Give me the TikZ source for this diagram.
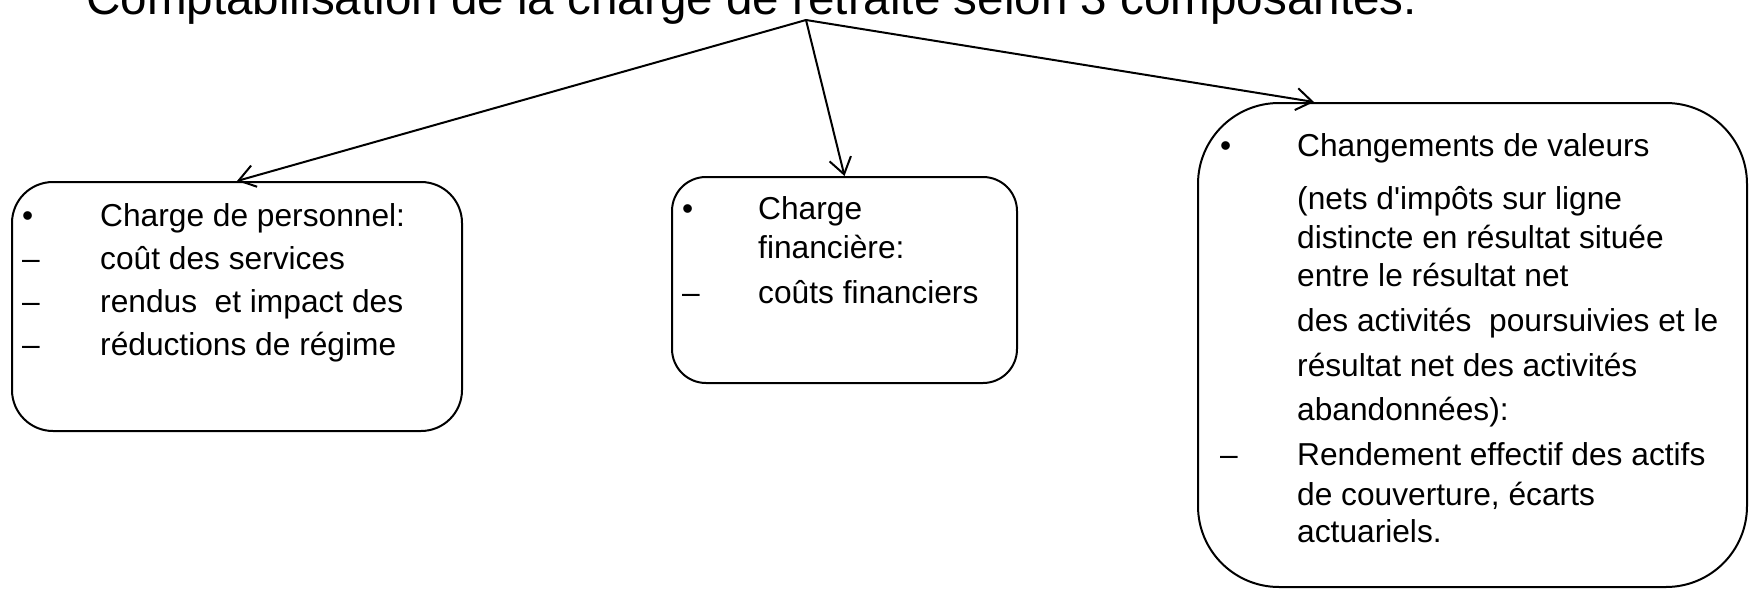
\documentclass[tikz,border=0pt]{standalone}
\usepackage{fontspec}
\setmainfont{Liberation Sans}
\usetikzlibrary{arrows.meta,calc}
\begin{document}
\begin{tikzpicture}[x=1pt,y=-1pt,
  box/.style={draw,line width=2pt,inner sep=0pt},
  txt/.style={anchor=base west,inner sep=0pt,font=\fontsize{31.7}{38}\selectfont},
  ttl/.style={anchor=base west,inner sep=0pt,font=\fontsize{47.6}{57}\selectfont},
  arr/.style={line width=2pt,-{Straight Barb[length=16pt,width=22pt]}}]
\useasboundingbox (0,0) rectangle (1749,589);
% title
\node[ttl] (title) at (86,14.5) {Comptabilisation de la charge de retraite selon 3 composantes:};
\coordinate (o) at (806,20);
% boxes
\node[box,rounded corners=41pt,minimum width=450pt,minimum height=249pt] (b1) at (237,306.5) {};
\node[box,rounded corners=34pt,minimum width=345pt,minimum height=206pt] (b2) at (844.5,280) {};
\node[box,rounded corners=81pt,minimum width=549pt,minimum height=484pt] (b3) at (1472.5,345) {};
\coordinate (t3) at ($(b3.north west)+(117,0)$);
% arrows
\draw[arr] (o) -- (b1.north);
\draw[arr] (o) -- (b2.north);
\draw[arr] (o) -- (t3);
% left box text
\node[txt] (m1a) at (22,226) {•};
\node[txt] (l1a) at (100,226) {Charge de personnel:};
\node[txt] (m1b) at (22,269) {–};
\node[txt] (l1b) at (100,269) {coût des services};
\node[txt] (m1c) at (22,312) {–};
\node[txt] (l1c) at (100,312) {rendus\ \ et impact des};
\node[txt] (m1d) at (22,355) {–};
\node[txt] (l1d) at (100,355) {réductions de régime};
% middle box text
\node[txt] (m2a) at (682,219) {•};
\node[txt] (l2a) at (758,219) {Charge};
\node[txt] (l2b) at (758,258) {financière:};
\node[txt] (m2c) at (682,303) {–};
\node[txt] (l2c) at (758,303) {coûts financiers};
% right box text
\node[txt] (m3a) at (1220,156) {•};
\node[txt] (l3a) at (1297,156) {Changements de valeurs};
\node[txt] (l3b) at (1297,209) {(nets d\textquotesingle impôts sur ligne};
\node[txt] (l3c) at (1297,248) {distincte en résultat située};
\node[txt] (l3d) at (1297,286) {entre le résultat net};
\node[txt] (l3e) at (1297,331) {des activités\ \ poursuivies et le};
\node[txt] (l3f) at (1297,376) {résultat net des activités};
\node[txt] (l3g) at (1297,420) {abandonnées):};
\node[txt] (m3h) at (1220,465) {–};
\node[txt] (l3h) at (1297,465) {Rendement effectif des actifs};
\node[txt] (l3i) at (1297,505) {de couverture, écarts};
\node[txt] (l3j) at (1297,542) {actuariels.};
\end{tikzpicture}
\end{document}
